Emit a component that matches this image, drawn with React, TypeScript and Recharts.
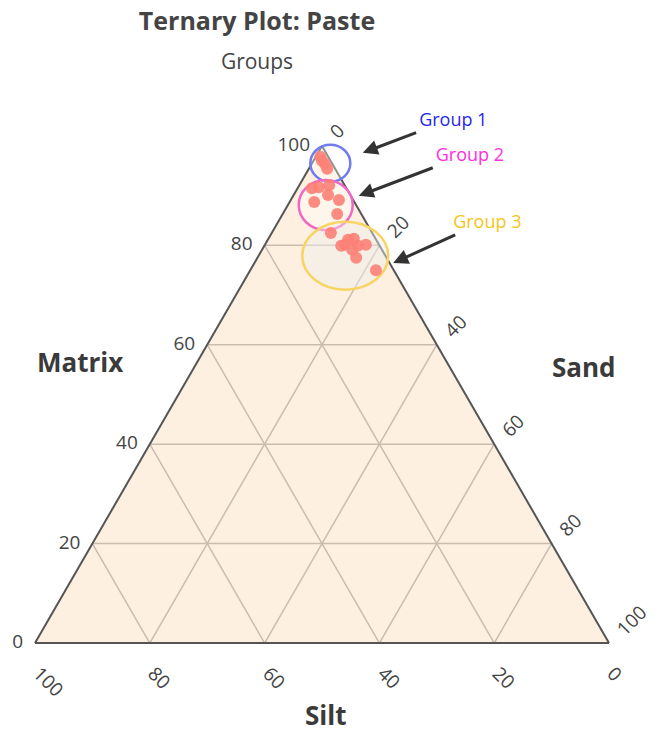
import React from 'react'
import { Area, ComposedChart, ReferenceLine, Scatter, XAxis, YAxis } from 'recharts'

// composition is [matrix, sand, silt] in percent
const GROUP_1: number[][] = [
  [97.8, 0.8, 1.4],
  [97.0, 1.5, 1.5],
  [96.4, 2.3, 1.3],
  [95.4, 3.2, 1.4]
]
const GROUP_2: number[][] = [
  [91.5, 2.5, 6.0],
  [91.7, 3.6, 4.7],
  [92.1, 5.2, 2.7],
  [90.1, 6.0, 3.9],
  [88.7, 4.3, 7.0],
  [89.1, 8.4, 2.5],
  [86.3, 9.5, 4.2]
]
const GROUP_3: number[][] = [
  [82.5, 10.3, 7.2],
  [79.9, 13.4, 6.7],
  [81.1, 14.0, 4.9],
  [81.3, 14.9, 3.8],
  [79.9, 16.3, 3.8],
  [80.1, 17.6, 2.3],
  [79.1, 15.7, 5.2],
  [77.5, 17.2, 5.3],
  [75.0, 21.9, 3.1],
  [80.1, 14.0, 5.9]
]

const GROUP_NAMES = ['Group 1', 'Group 2', 'Group 3']
// rough centre of each group ring, same [matrix, sand, silt]
const GROUP_CENTRES: number[][] = [
  [96.5, 3.2, 0.3],
  [88.1, 6.6, 5.3],
  [77.9, 15.1, 7.0]
]

const MATRIX_TICKS = [0, 20, 40, 60, 80, 100]
const SAND_TICKS = [0, 20, 40, 60, 80, 100]
const SILT_TICKS = [100, 80, 60, 40, 20, 0]
const GRID_STEPS = [20, 40, 60, 80]

const H = Math.sqrt(3) / 2
const FONT = "'Open Sans', sans-serif"
const TXT = '#444444'

const RING_STYLE = [
  { stroke: '#6f7cf0', rx: 20, ry: 18.5, fill: 'rgba(255,255,255,0.35)' },
  { stroke: '#f067c6', rx: 27, ry: 25, fill: 'rgba(255,255,255,0.35)' },
  { stroke: '#f9d462', rx: 43, ry: 34, fill: 'rgba(238,238,238,0.45)' }
]
const LABEL_COLOURS = ['#2727ee', '#ff2ee0', '#f5c518']
const LABEL_DX = [3, 3, -2]

// arrow tail / head in chart units (x 0..100, y 0..100)
const ARROWS = [
  { tail: { x: 66.4, y: 88.9 }, head: { x: 57.1, y: 85.4 } },
  { tail: { x: 69.3, y: 82.8 }, head: { x: 56.4, y: 77.9 } },
  { tail: { x: 73.2, y: 71.1 }, head: { x: 62.4, y: 66.2 } }
]

const toXY = (m: number, s: number, c: number) => {
  const t = m + s + c
  const mm = (m / t) * 100
  const ss = (s / t) * 100
  return { x: mm * 0.5 + ss, y: mm * H }
}

const TRIANGLE = [toXY(0, 0, 100), toXY(100, 0, 0), toXY(0, 100, 0)]

const points = [...GROUP_1, ...GROUP_2, ...GROUP_3].map(([m, s, c]) => toXY(m, s, c))
const rings = GROUP_CENTRES.map(([m, s, c], i) => ({ ...toXY(m, s, c), i }))

const leftTicks = MATRIX_TICKS.map((v) => ({ ...toXY(v, 0, 100 - v), v }))
const rightTicks = SAND_TICKS.map((v) => ({ ...toXY(100 - v, v, 0), v }))
const bottomTicks = SILT_TICKS.map((v) => ({ ...toXY(0, 100 - v, v), v }))

const gridSegments: { x: number; y: number }[][] = []
GRID_STEPS.forEach((v) => {
  // matrix constant
  gridSegments.push([toXY(v, 0, 100 - v), toXY(v, 100 - v, 0)])
  // sand constant
  gridSegments.push([toXY(0, v, 100 - v), toXY(100 - v, v, 0)])
  // silt constant
  gridSegments.push([toXY(0, 100 - v, v), toXY(100 - v, 0, v)])
})

const edges = [
  [TRIANGLE[0], TRIANGLE[1]],
  [TRIANGLE[1], TRIANGLE[2]],
  [TRIANGLE[0], TRIANGLE[2]]
]

const arrowShape = (idx: number) => (p: any) => {
  const { x1, y1, x2, y2 } = p
  const dx = x2 - x1
  const dy = y2 - y1
  const len = Math.sqrt(dx * dx + dy * dy)
  const ux = dx / len
  const uy = dy / len
  const hl = 15
  const hw = 7.5
  const bx = x2 - ux * hl
  const by = y2 - uy * hl
  return (
    <g>
      <line x1={x1} y1={y1} x2={bx + ux * 2} y2={by + uy * 2} stroke="#333" strokeWidth={3} />
      <polygon
        points={`${x2},${y2} ${bx - uy * hw},${by + ux * hw} ${bx + uy * hw},${by - ux * hw}`}
        fill="#333"
      />
      <text
        x={x1 + LABEL_DX[idx]}
        y={y1 - 14}
        fontSize={18}
        fontFamily={FONT}
        fill={LABEL_COLOURS[idx]}
        dominantBaseline="central"
      >
        {GROUP_NAMES[idx]}
      </text>
    </g>
  )
}

const tickText = { fontSize: 19, fontFamily: FONT, fill: TXT }

export default function App() {
  return (
    <div style={{ position: 'absolute', left: 0, top: 0, width: 654, height: 740, background: '#fff' }}>
      <div
        style={{
          position: 'absolute',
          left: 0,
          top: 3,
          width: 514,
          textAlign: 'center',
          fontFamily: FONT,
          fontWeight: 700,
          fontSize: 25,
          color: TXT
        }}
      >
        Ternary Plot: Paste
      </div>
      <div
        style={{
          position: 'absolute',
          left: 0,
          top: 47,
          width: 514,
          textAlign: 'center',
          fontFamily: FONT,
          fontSize: 21,
          color: TXT
        }}
      >
        Groups
      </div>

      <ComposedChart
        width={654}
        height={740}
        data={TRIANGLE}
        margin={{ top: 69, right: 45, bottom: 97, left: 35 }}
        style={{ position: 'absolute', left: 0, top: 0 }}
      >
        <XAxis dataKey="x" type="number" domain={[0, 100]} hide />
        <YAxis dataKey="y" type="number" domain={[0, 100]} hide />
        <Area
          type="linear"
          dataKey="y"
          stroke="none"
          fill="#fdf0e1"
          fillOpacity={1}
          dot={false}
          activeDot={false}
          isAnimationActive={false}
        />
        {gridSegments.map((seg, i) => (
          <ReferenceLine key={'g' + i} segment={seg} stroke="#c9bdb0" strokeWidth={1.5} ifOverflow="visible" />
        ))}
        {edges.map((seg, i) => (
          <ReferenceLine key={'e' + i} segment={seg} stroke="#555" strokeWidth={2} ifOverflow="visible" />
        ))}
        <Scatter
          data={rings}
          isAnimationActive={false}
          shape={(p: any) => {
            const st = RING_STYLE[p.payload.i]
            return (
              <ellipse
                cx={p.cx}
                cy={p.cy}
                rx={st.rx}
                ry={st.ry}
                fill={st.fill}
                stroke={st.stroke}
                strokeWidth={2.5}
              />
            )
          }}
        />
        <Scatter
          data={points}
          isAnimationActive={false}
          shape={(p: any) => <circle cx={p.cx} cy={p.cy} r={6} fill="#fc8177" fillOpacity={0.9} />}
        />
        <Scatter
          data={leftTicks}
          isAnimationActive={false}
          shape={(p: any) => (
            <text x={p.cx - 12} y={p.cy - 2} textAnchor="end" dominantBaseline="central" {...tickText}>
              {p.payload.v}
            </text>
          )}
        />
        <Scatter
          data={rightTicks}
          isAnimationActive={false}
          shape={(p: any) => {
            const x = p.cx + 11
            const y = p.cy - 11
            return (
              <text x={x} y={y} transform={`rotate(-45 ${x} ${y})`} dominantBaseline="central" {...tickText}>
                {p.payload.v}
              </text>
            )
          }}
        />
        <Scatter
          data={bottomTicks}
          isAnimationActive={false}
          shape={(p: any) => {
            const x = p.cx + 2
            const y = p.cy + 27
            return (
              <text x={x} y={y} transform={`rotate(45 ${x} ${y})`} dominantBaseline="central" {...tickText}>
                {p.payload.v}
              </text>
            )
          }}
        />
        {ARROWS.map((a, i) => (
          <ReferenceLine
            key={'a' + i}
            segment={[a.tail, a.head]}
            ifOverflow="visible"
            shape={arrowShape(i)}
          />
        ))}
      </ComposedChart>

      <div style={{ position: 'absolute', left: 37, top: 344, fontFamily: FONT, fontWeight: 700, fontSize: 26, color: '#3a3a3a' }}>
        Matrix
      </div>
      <div style={{ position: 'absolute', left: 552, top: 349, fontFamily: FONT, fontWeight: 700, fontSize: 26, color: '#3a3a3a' }}>
        Sand
      </div>
      <div style={{ position: 'absolute', left: 305, top: 697, fontFamily: FONT, fontWeight: 700, fontSize: 26, color: '#3a3a3a' }}>
        Silt
      </div>
    </div>
  )
}
